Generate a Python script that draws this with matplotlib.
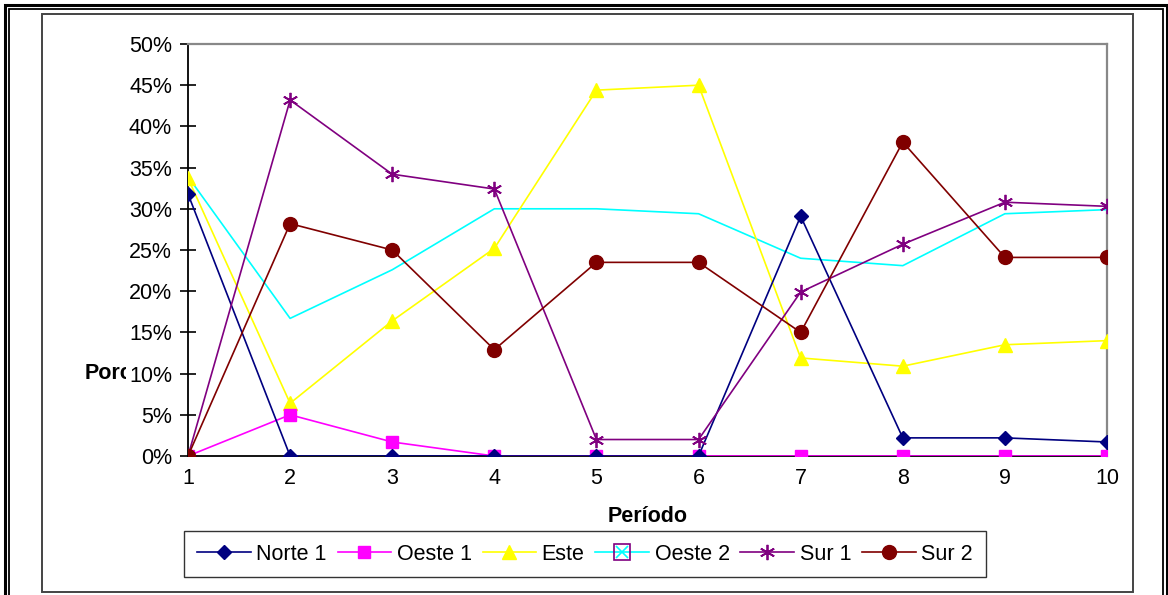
import matplotlib
matplotlib.use("Agg")
import matplotlib.pyplot as plt
from matplotlib.lines import Line2D
from matplotlib.patches import Rectangle
from matplotlib.legend_handler import HandlerTuple
from matplotlib.ticker import FuncFormatter
from matplotlib.transforms import Bbox

plt.rcParams['font.family'] = ['Liberation Sans', 'DejaVu Sans']

periods = [1, 2, 3, 4, 5, 6, 7, 8, 9, 10]
norte1 = [31.8, 0, 0, 0, 0, 0, 29.1, 2.2, 2.2, 1.7]
oeste1 = [0, 5.0, 1.7, 0, 0, 0, 0, 0, 0, 0]
este = [33.7, 6.4, 16.4, 25.2, 44.4, 45.0, 11.9, 10.9, 13.5, 14.0]
oeste2 = [33.9, 16.7, 22.6, 30.0, 30.0, 29.4, 24.0, 23.1, 29.4, 29.9]
sur1 = [0, 43.2, 34.2, 32.4, 2.0, 2.0, 19.9, 25.7, 30.8, 30.3]
sur2 = [0, 28.2, 25.0, 12.9, 23.5, 23.5, 15.0, 38.1, 24.1, 24.1]
yticks = [0, 5, 10, 15, 20, 25, 30, 35, 40, 45, 50]

W, H = 1168, 595
FS = 15.5
fig = plt.figure(figsize=(W / 100, H / 100), dpi=100)
fig.patch.set_facecolor('white')


def fx(px):
    return px / W


def fy(py):
    return 1 - py / H


# page-style double border and the chart-area frame
fig.add_artist(Rectangle((fx(4.5), fy(620)), fx(1167) - fx(4.5), fy(5.5) - fy(620),
                         transform=fig.transFigure, fill=False, edgecolor='black', lw=2.2))
fig.add_artist(Rectangle((fx(8.5), fy(620)), fx(1163) - fx(8.5), fy(9) - fy(620),
                         transform=fig.transFigure, fill=False, edgecolor='black', lw=1.3))
fig.add_artist(Rectangle((fx(42), fy(592)), fx(1133) - fx(42), fy(14) - fy(592),
                         transform=fig.transFigure, fill=False, edgecolor='#444444', lw=1.4))

ax = fig.add_axes([fx(188), fy(456), fx(1107) - fx(188), fy(44) - fy(456)])

lw = 1.2
ax.plot(periods, oeste2, color='#00FFFF', lw=lw, zorder=3)
ax.plot(periods, este, color='#FFFF00', lw=lw, marker='^', ms=10, zorder=4)
ax.plot(periods, oeste1, color='#FF00FF', lw=lw, marker='s', ms=8.5, zorder=4)
ax.plot(periods, norte1, color='#000080', lw=lw, marker='D', ms=7.5, zorder=5)
ax.plot(periods, sur1, color='#800080', lw=lw, marker=(6, 2, 0), ms=11, mew=1.3, zorder=5)
ax.plot(periods, sur2, color='#800000', lw=lw, marker='o', ms=10, zorder=6)

ax.set_xlim(1, 10)
ax.set_ylim(0, 50)
ax.set_xticks(periods)
ax.set_yticks(yticks)
ax.yaxis.set_major_formatter(FuncFormatter(lambda v, p: f"{v:.0f}%"))
ax.tick_params(axis='y', direction='inout', length=11, width=1.2, labelsize=FS, pad=6)
ax.tick_params(axis='x', direction='out', length=0, labelsize=FS, pad=9)

for side in ('top', 'right'):
    ax.spines[side].set_color('#888888')
    ax.spines[side].set_linewidth(1.6)
for side in ('left', 'bottom'):
    ax.spines[side].set_color('black')
    ax.spines[side].set_linewidth(1.3)
for s in ax.spines.values():
    s.set_zorder(2)

# y-axis title, cut off where the tick labels begin
ytitle = fig.text(fx(85), fy(374), 'Porcentaje', ha='left', va='center',
                  fontsize=FS, fontweight='bold', zorder=0)
ytitle.set_clip_box(Bbox.from_extents(80, H - 395, 126, H - 355))
ytitle.set_clip_on(True)

fig.text(fx(648), fy(516), 'Período', ha='center', va='center',
         fontsize=FS, fontweight='bold')

handles = [
    Line2D([], [], color='#000080', lw=lw, marker='D', ms=7.5),
    Line2D([], [], color='#FF00FF', lw=lw, marker='s', ms=8.5),
    Line2D([], [], color='#FFFF00', lw=lw, marker='^', ms=10),
    (Line2D([], [], color='#00FFFF', lw=lw, marker='x', ms=9, mew=1.2),
     Line2D([], [], ls='none', marker='s', ms=12, mfc='none', mec='#800080', mew=1.2)),
    Line2D([], [], color='#800080', lw=lw, marker=(6, 2, 0), ms=11, mew=1.3),
    Line2D([], [], color='#800000', lw=lw, marker='o', ms=10),
]
labels = ['Norte 1', 'Oeste 1', 'Este', 'Oeste 2', 'Sur 1', 'Sur 2']
leg = fig.legend(handles, labels, loc='center', bbox_to_anchor=(fx(585), fy(554)),
                 ncol=6, fontsize=FS, frameon=True, fancybox=False, shadow=False,
                 edgecolor='black', handlelength=2.5, handletextpad=0.25,
                 columnspacing=0.5, borderpad=0.6, borderaxespad=0,
                 handler_map={tuple: HandlerTuple(ndivide=1)})
leg.get_frame().set_linewidth(1.0)

fig.savefig('out.png', dpi=100, facecolor='white')
